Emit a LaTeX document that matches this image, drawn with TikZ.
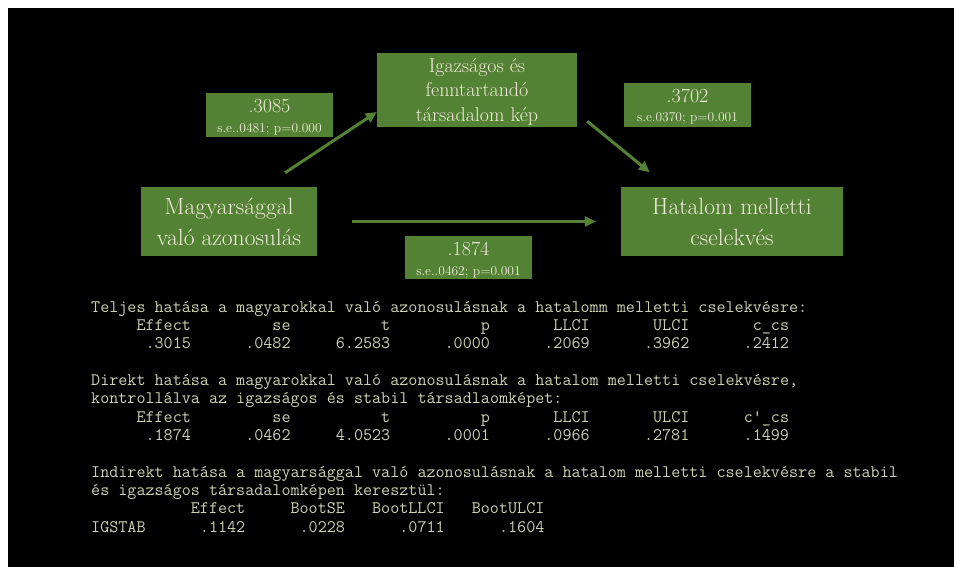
\documentclass[tikz,border=0pt]{standalone}
\usepackage{fontspec}
\usetikzlibrary{arrows.meta}
\definecolor{grn}{RGB}{84,130,53}
\definecolor{cream}{RGB}{240,236,218}
\definecolor{mtxt}{RGB}{205,210,178}
\newcommand\monofnt{\fontsize{17.6}{18}\ttfamily}
\newlength\cw
\newcommand\SP[1]{\hspace*{#1\cw}}
\begin{document}
\settowidth{\cw}{\monofnt 0}%
\begin{tikzpicture}[x=1pt,y=-1pt,
  box/.style={fill=grn, draw=none, text=cream, align=center, inner sep=0pt},
  lblbox/.style={fill=grn, draw=none, inner sep=0pt, minimum width=127pt},
  bignum/.style={anchor=base, inner sep=0pt, text=cream, font=\fontsize{20}{22}\selectfont},
  smalltxt/.style={anchor=base, inner sep=0pt, text=cream, font=\fontsize{13.5}{15}\selectfont},
  mono/.style={anchor=base west, inner sep=0pt, text=mtxt, font=\monofnt},
  arr/.style={draw=grn, line width=3pt, -{Triangle[length=11pt,width=10pt]}}
]
\useasboundingbox (0,0) rectangle (954,567);
\fill[white] (0,0) rectangle (954,567);
\fill[black] (8,8) rectangle (954,567);

% main boxes
\node[box, minimum width=176pt, minimum height=69pt, font=\fontsize{23.5}{31}\selectfont] (magy) at (229,221.5) {Magyarsággal\\való azonosulás};
\node[box, minimum width=222pt, minimum height=68pt, font=\fontsize{23.5}{31}\selectfont] (hat) at (732,221.5) {Hatalom melletti\\cselekvés};
\node[box, minimum width=200pt, minimum height=74pt, font=\fontsize{20}{24.3}\selectfont, text depth=0pt] (igaz) at (477,90) {Igazságos és\\fenntartandó\\társadalom kép};

% coefficient labels
\node[lblbox, minimum height=44pt] (lab1) at (269.5,115) {};
\node[bignum] (lab1a) at (269.5,113) {.3085};
\node[smalltxt] (lab1b) at (269.5,132.5) {s.e..0481; p=0.000};

\node[lblbox, minimum height=44pt] (lab2) at (687.5,105) {};
\node[bignum] (lab2a) at (687.5,103) {.3702};
\node[smalltxt] (lab2b) at (687.5,121.5) {s.e.0370; p=0.001};

\node[lblbox, minimum height=43pt] (lab3) at (468.5,257.5) {};
\node[bignum] (lab3a) at (468.5,255) {.1874};
\node[smalltxt] (lab3b) at (468.5,275.5) {s.e..0462; p=0.001};

% arrows
\draw[arr] ([xshift=56pt,yshift=14pt]magy.north) -- ([yshift=-22pt]igaz.west);
\draw[arr] ([xshift=10pt,yshift=6pt]igaz.south east) -- ([xshift=29pt,yshift=15pt]hat.north west);
\draw[arr] ([xshift=35pt]magy.east) -- ([xshift=-25pt]hat.west);

% output text
\node[mono] (t1) at (91,312) {Teljes hatása a magyarokkal való azonosulásnak a hatalomm melletti cselekvésre:};
\node[mono] (t2) at (91,330.3) {\SP{5}Effect\SP{9}se\SP{10}t\SP{10}p\SP{7}LLCI\SP{7}ULCI\SP{7}c\_cs};
\node[mono] (t3) at (91,348.7) {\SP{6}.3015\SP{6}.0482\SP{5}6.2583\SP{6}.0000\SP{6}.2069\SP{6}.3962\SP{6}.2412};
\node[mono] (t4) at (91,385.3) {Direkt hatása a magyarokkal való azonosulásnak a hatalom melletti cselekvésre,};
\node[mono] (t5) at (91,403.7) {kontrollálva az igazságos és stabil társadlaomképet:};
\node[mono] (t6) at (91,422) {\SP{5}Effect\SP{9}se\SP{10}t\SP{10}p\SP{7}LLCI\SP{7}ULCI\SP{6}c\textquotesingle\_cs};
\node[mono] (t7) at (91,440.3) {\SP{6}.1874\SP{6}.0462\SP{5}4.0523\SP{6}.0001\SP{6}.0966\SP{6}.2781\SP{6}.1499};
\node[mono] (t8) at (91,477) {Indirekt hatása a magyarsággal való azonosulásnak a hatalom melletti cselekvésre a stabil};
\node[mono] (t9) at (91,495.3) {és igazságos társadalomképen keresztül:};
\node[mono] (t10) at (91,513.7) {\SP{11}Effect\SP{5}BootSE\SP{3}BootLLCI\SP{3}BootULCI};
\node[mono] (t11) at (91,532) {IGSTAB\SP{6}.1142\SP{6}.0228\SP{6}.0711\SP{6}.1604};
\end{tikzpicture}
\end{document}
